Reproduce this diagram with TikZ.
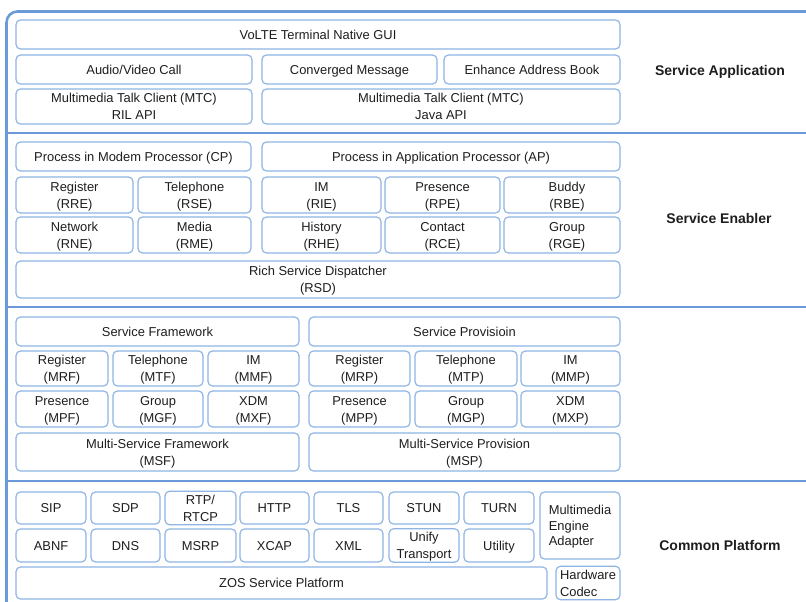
\documentclass[tikz,border=0pt]{standalone}
\usepackage{fontspec}
\setmainfont{Liberation Sans}
\definecolor{framecol}{HTML}{6A9BD8}
\definecolor{boxcol}{HTML}{8FB5E4}
\definecolor{txtcol}{HTML}{1E1E1E}
\tikzset{
  blk/.style={draw=boxcol, line width=1.2pt, rounded corners=4.5pt, inner sep=0pt,
    align=center, text=txtcol, font=\fontsize{12.9}{15.8}\selectfont},
  blkleft/.style={blk, align=left},
  frameline/.style={draw=framecol, line width=2.6pt},
  layerlabel/.style={text=txtcol, font=\fontsize{14}{17}\selectfont\bfseries}
}
% fixed strut (12.74pt high, 3.5pt deep) so that capitals sit on the box centre
\newcommand\tstrut{\rule[-3.5pt]{0pt}{16.24pt}}
% box from corner (x1,y1) to corner (x2,y2)
\newcommand\blk[7][blk]{%
  \node[#1, minimum width={#5-#3}, minimum height={#6-#4}] (#2) at ({(#3+#5)/2},{(#4+#6)/2}) {\tstrut#7\tstrut};}
\begin{document}
\begin{tikzpicture}[x=1pt,y=-1pt]
\useasboundingbox (0,0) rectangle (806,602);
\fill[white] (0,0) rectangle (806,602);

% outer frame and layer separators
\draw[frameline, rounded corners=11pt] (830,11.5) -- (6.5,11.5) -- (6.5,630);
\draw[frameline] (6.5,133) -- (830,133);
\draw[frameline] (6.5,307) -- (830,307);
\draw[frameline] (6.5,481) -- (830,481);

% Service Application
\blk{gui}{16}{20}{620}{49}{VoLTE Terminal Native GUI}
\blk{avc}{16}{55}{252}{84}{Audio/Video Call}
\blk{cm}{262}{55}{437}{84}{Converged Message}
\blk{eab}{444}{55}{620}{84}{Enhance Address Book}
\blk{mtcril}{16}{89}{252}{124}{Multimedia Talk Client (MTC)\\RIL API}
\blk{mtcjava}{262}{89}{620}{124}{Multimedia Talk Client (MTC)\\Java API}
\node[layerlabel] (lsa) at (720,72) {Service Application};

% Service Enabler
\blk{cp}{16}{142}{251}{171}{Process in Modem Processor (CP)}
\blk{ap}{262}{142}{620}{171}{Process in Application Processor (AP)}
\blk{rre}{16}{177}{133}{213}{Register\\(RRE)}
\blk{rse}{138}{177}{251}{213}{Telephone\\(RSE)}
\blk{rie}{262}{177}{381}{213}{IM\\(RIE)}
\blk{rpe}{385}{177}{500}{213}{Presence\\(RPE)}
\blk{rbe}{504}{177}{620}{213}{\hspace*{10pt}Buddy\\\hspace*{10pt}(RBE)}
\blk{rne}{16}{217}{133}{253}{Network\\(RNE)}
\blk{rme}{138}{217}{251}{253}{Media\\(RME)}
\blk{rhe}{262}{217}{381}{253}{History\\(RHE)}
\blk{rce}{385}{217}{500}{253}{Contact\\(RCE)}
\blk{rge}{504}{217}{620}{253}{\hspace*{10pt}Group\\\hspace*{10pt}(RGE)}
\blk{rsd}{16}{261}{620}{298}{Rich Service Dispatcher\\(RSD)}
\node[layerlabel] (lse) at (719,218) {Service Enabler};

% Service framework / provision
\blk{sf}{16}{317}{299}{346}{Service Framework}
\blk{sp}{309}{317}{620}{346}{Service Provisioin}
\blk{mrf}{16}{351}{108}{386}{Register\\(MRF)}
\blk{mtf}{113}{351}{203}{386}{Telephone\\(MTF)}
\blk{mmf}{208}{351}{299}{386}{IM\\(MMF)}
\blk{mrp}{309}{351}{410}{386}{Register\\(MRP)}
\blk{mtp}{415}{351}{517}{386}{Telephone\\(MTP)}
\blk{mmp}{521}{351}{620}{386}{IM\\(MMP)}
\blk{mpf}{16}{391}{108}{427}{Presence\\(MPF)}
\blk{mgf}{113}{391}{203}{427}{Group\\(MGF)}
\blk{mxf}{208}{391}{299}{427}{XDM\\(MXF)}
\blk{mpp}{309}{391}{410}{427}{Presence\\(MPP)}
\blk{mgp}{415}{391}{517}{427}{Group\\(MGP)}
\blk{mxp}{521}{391}{620}{427}{XDM\\(MXP)}
\blk{msf}{16}{433}{299}{471}{Multi-Service Framework\\(MSF)}
\blk{msp}{309}{433}{620}{471}{Multi-Service Provision\\(MSP)}

% Common Platform
\blk{sip}{16}{492}{86}{524}{SIP}
\blk{sdp}{91}{492}{160}{524}{SDP}
\blk{rtp}{165}{492}{236}{524}{RTP/\\RTCP}
\blk{http}{240}{492}{309}{524}{HTTP}
\blk{tls}{314}{492}{383}{524}{TLS}
\blk{stun}{389}{492}{459}{524}{STUN}
\blk{turn}{464}{492}{534}{524}{TURN}
\blk[blkleft]{mea}{540}{492}{620}{559}{Multimedia\\Engine\\Adapter}
\blk{abnf}{16}{529}{86}{562}{ABNF}
\blk{dns}{91}{529}{160}{562}{DNS}
\blk{msrp}{165}{529}{236}{562}{MSRP}
\blk{xcap}{240}{529}{309}{562}{XCAP}
\blk{xml}{314}{529}{383}{562}{XML}
\blk{unify}{389}{529}{459}{562}{Unify\\Transport}
\blk{util}{464}{529}{534}{562}{Utility}
\blk{zos}{16}{567}{547}{599}{ZOS Service Platform}
\blk[blkleft]{hwc}{556}{567}{620}{599}{Hardware\\Codec}
\node[layerlabel] (lcp) at (720,545) {Common Platform};
\end{tikzpicture}
\end{document}
